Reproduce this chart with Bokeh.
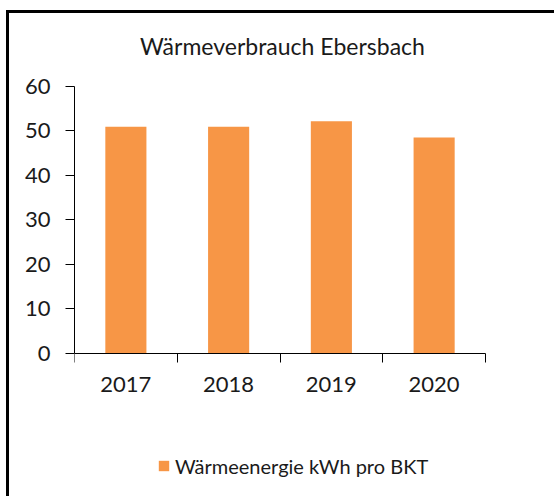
from bokeh.plotting import figure
from bokeh.models import (ColumnDataSource, FixedTicker, Label, Legend, LegendItem, LinearAxis)
from bokeh.embed import file_html
from bokeh.resources import INLINE

title_text = "Wärmeverbrauch Ebersbach"
years = ["2017", "2018", "2019", "2020"]
values = [50.9, 50.9, 52.1, 48.5]
series_name = "Wärmeenergie kWh pro BKT"
y_ticks = [0, 10, 20, 30, 40, 50, 60]

FONT = "Lato"
TXT = "#1a1a1a"
ORANGE = "#F79646"

xpos = [i + 0.5 for i in range(len(years))]
source = ColumnDataSource(data=dict(x=xpos, year=years, value=values))

# frame covers the whole canvas right of the y axis; axes are bounded to the data area
p = figure(frame_width=480, frame_height=483,
           x_range=(0, 4.6715), y_range=(-32.2, 76.34),
           x_axis_location=None,
           output_backend="svg", toolbar_location=None, tools="",
           min_border_left=65, min_border_right=0,
           min_border_top=0, min_border_bottom=0)
p.margin = (10, 0, 0, 6)
p.styles = {"border-left": "3px solid #000", "border-top": "3px solid #000"}
p.outline_line_color = None
p.background_fill_color = "white"
p.border_fill_color = "white"
p.grid.visible = False

r = p.vbar(x="x", top="value", width=0.4, source=source,
           fill_color=ORANGE, line_color=None)

# x axis at y=0: labels at category centres, ticks at category boundaries
xa = LinearAxis(fixed_location=0, bounds=(-0.09, len(years)))
xa.ticker = FixedTicker(ticks=xpos, minor_ticks=list(range(len(years) + 1)))
xa.major_label_overrides = {x: y for x, y in zip(xpos, years)}
xa.major_tick_out = 0
xa.major_tick_in = 0
xa.minor_tick_out = 9
xa.minor_tick_in = 0
xa.minor_tick_line_color = "#000"
xa.axis_line_color = "#000"
xa.major_label_standoff = 15
xa.major_label_text_font = FONT
xa.major_label_text_font_size = "22px"
xa.major_label_text_color = TXT
p.add_layout(xa, "below")

ya = p.yaxis[0]
ya.bounds = (0, 60)
ya.ticker = FixedTicker(ticks=y_ticks)
ya.major_tick_out = 9
ya.major_tick_in = 0
ya.minor_tick_line_color = None
ya.axis_line_color = "#000"
ya.major_tick_line_color = "#000"
ya.major_label_standoff = 15
ya.major_label_text_font = FONT
ya.major_label_text_font_size = "22px"
ya.major_label_text_color = TXT

title = Label(x=208, y=450.5, x_units="screen", y_units="screen",
              text=title_text, text_font=FONT, text_font_size="23px",
              text_color=TXT, text_align="center", text_baseline="alphabetic")
p.add_layout(title)

legend = Legend(items=[LegendItem(label=series_name, renderers=[r])],
                location=(83, 18), orientation="horizontal",
                glyph_width=13, glyph_height=13, label_standoff=5,
                label_height=25, padding=0, margin=0, spacing=0,
                border_line_color=None, background_fill_alpha=0,
                label_text_font=FONT, label_text_font_size="20px",
                label_text_color=TXT, label_text_baseline="middle")
p.add_layout(legend, "center")

open("out.html", "w").write(file_html(p, INLINE))
